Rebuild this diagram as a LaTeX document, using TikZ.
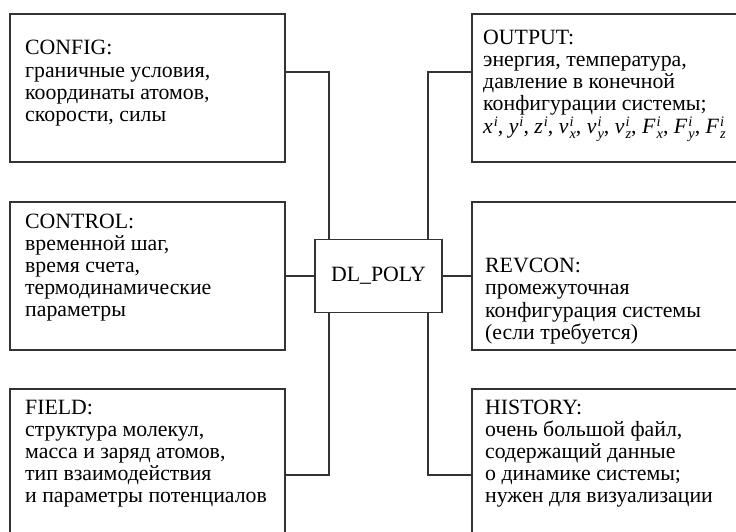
\documentclass[tikz,border=0pt]{standalone}
\usepackage{fontspec}
\setmainfont{Liberation Serif}
\newfontfamily\tnr{Liberation Serif}
\newcommand{\txtfont}{\tnr\fontsize{21.8}{22.1}\selectfont\lineskiplimit=-20pt\relax}
\newcommand{\smi}[1]{{\fontsize{14.5}{14.5}\selectfont\itshape #1}}
\newcommand{\sv}[2]{\textit{#1}\kern1pt\rlap{\raisebox{0.7ex}{\smi{i}}}\raisebox{-0.55ex}{\smi{#2}}}
\newcommand{\su}[1]{\textit{#1}\kern1pt\raisebox{0.7ex}{\smi{i}}}
\begin{document}
\begin{tikzpicture}[x=1pt,y=-1pt,
  box/.style={draw=black!80, line width=1.5pt, inner sep=0, minimum width=275pt, minimum height=148pt},
  txt/.style={anchor=north west, inner sep=0, align=left, font=\txtfont},
  link/.style={draw=black!80, line width=1.5pt}]
\useasboundingbox (0,0) rectangle (736,531);
\clip (0,0) rectangle (736,531);
% boxes
\node[box] (config) at (147.5,88) {};
\node[box] (output) at (609.5,88) {};
\node[box] (control) at (147.5,276) {};
\node[box] (revcon) at (609.5,276) {};
\node[box] (field) at (147.5,463) {};
\node[box] (history) at (609.5,463) {};
\node[box, minimum width=127pt, minimum height=73pt, font=\txtfont] (dl) at (378.5,276) {DL\_POLY};
% texts
\node[txt] (tconfig) at (25,39.3) {\strut CONFIG:\\граничные условия,\\координаты атомов,\\скорости, силы};
\node[txt] (toutput) at (483,29) {\strut OUTPUT:\\энергия, температура,\\давление в конечной\\конфигурации системы;\\
  \su{x}, \su{y}, \su{z}, \sv{v}{x}, \sv{v}{y}, \sv{v}{z}, \sv{F}{x}, \sv{F}{y}, \sv{F}{z}};
\node[txt] (tcontrol) at (25,212.8) {\strut CONTROL:\\временной шаг,\\время счета,\\термодинамические\\параметры};
\node[txt] (trevcon) at (485,257.2) {\strut REVCON:\\промежуточная\\конфигурация системы\\(если требуется)};
\node[txt] (tfield) at (25,398.8) {\strut FIELD:\\структура молекул,\\масса и заряд атомов,\\тип взаимодействия\\и параметры потенциалов};
\node[txt] (thistory) at (485,398.8) {\strut HISTORY:\\очень большой файл,\\содержащий данные\\о динамике системы;\\нужен для визуализации};
% junctions
\coordinate (j1) at (329,72);
\coordinate (j2) at (428,72);
\coordinate (j3) at (329,475);
\coordinate (j4) at (428,475);
% connectors
\draw[link] (config.east |- j1) -- (j1) -- (j1 |- dl.north);
\draw[link] (output.west |- j2) -- (j2) -- (j2 |- dl.north);
\draw[link] (control.east) -- (dl.west);
\draw[link] (dl.east) -- (revcon.west);
\draw[link] (field.east |- j3) -- (j3) -- (j3 |- dl.south);
\draw[link] (history.west |- j4) -- (j4) -- (j4 |- dl.south);
\end{tikzpicture}
\end{document}
